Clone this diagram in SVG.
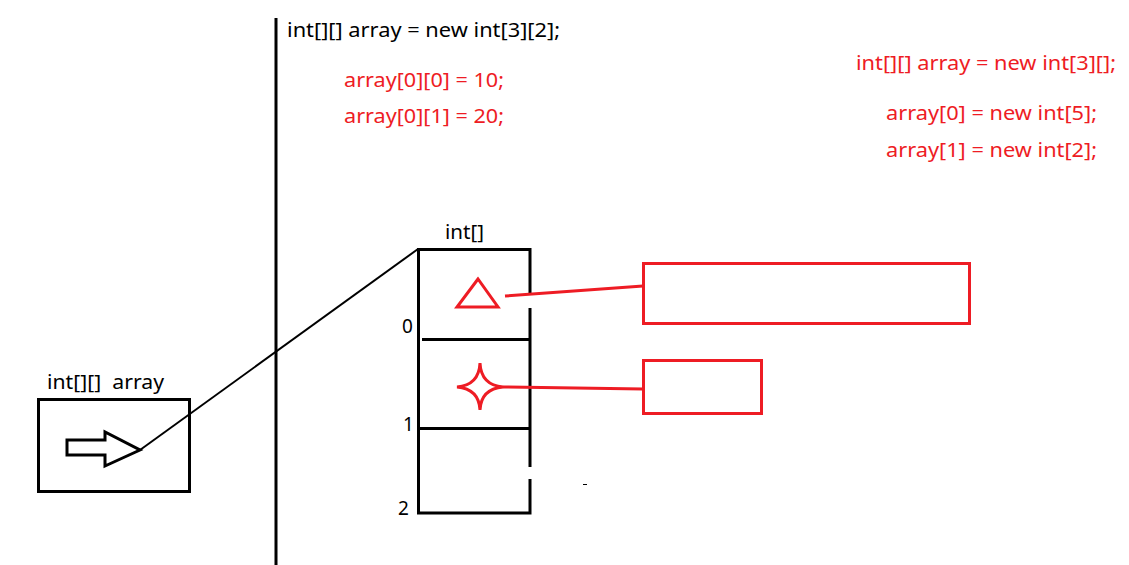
<svg xmlns="http://www.w3.org/2000/svg" width="1129" height="565" viewBox="0 0 1129 565">
<style>
.t{font-family:"Noto Sans","Open Sans",sans-serif;font-size:19px;fill:#000}
.r{fill:#ee1c24}
.k{stroke:#000;stroke-width:3;fill:none}
.rs{stroke:#ee1c24;stroke-width:3;fill:none}
</style>
<rect width="1129" height="565" fill="#fff"/>
<g id="texts">
<text class="t" x="287" y="37" textLength="273" lengthAdjust="spacingAndGlyphs">int[][] array = new int[3][2];</text>
<text class="t r" x="344" y="87" textLength="160" lengthAdjust="spacingAndGlyphs">array[0][0] = 10;</text>
<text class="t r" x="344" y="123" textLength="160" lengthAdjust="spacingAndGlyphs">array[0][1] = 20;</text>
<text class="t r" x="856" y="70" textLength="260" lengthAdjust="spacingAndGlyphs">int[][] array = new int[3][];</text>
<text class="t r" x="886" y="120" textLength="211" lengthAdjust="spacingAndGlyphs">array[0] = new int[5];</text>
<text class="t r" x="886" y="157" textLength="211" lengthAdjust="spacingAndGlyphs">array[1] = new int[2];</text>
</g>
<line x1="276" y1="18" x2="276" y2="565" class="k"/>
<g id="var">
<text class="t" x="47" y="389" textLength="117" lengthAdjust="spacingAndGlyphs" xml:space="preserve">int[][]  array</text>
<rect x="38.5" y="399.5" width="151" height="92" class="k"/>
<polygon points="67,440 105,440 105,432 140,450 105,466 105,455 67,455" class="k"/>
</g>
<g id="arr">
<text class="t" x="445" y="239" textLength="39" lengthAdjust="spacingAndGlyphs">int[]</text>
<path d="M530,295 V249.5 H418.5 V513 H530 V479 M530,467 V308" class="k"/>
<line x1="422" y1="339.5" x2="530" y2="339.5" class="k"/>
<line x1="418" y1="428.5" x2="530" y2="428.5" class="k"/>
<text class="t" x="402" y="333">0</text>
<text class="t" x="403" y="431">1</text>
<text class="t" x="398" y="515">2</text>
<polygon points="478,279 457,307 498,307" class="rs"/>
<path d="M480,363 Q481,385 503,387 Q481,389 480,410 Q479,389 457,387 Q479,385 480,363 Z" class="rs"/>
<line x1="583" y1="484.5" x2="587" y2="484.5" stroke="#000" stroke-width="1"/>
</g>
<g id="obj0"><rect x="643.5" y="263.5" width="326" height="60" class="rs"/></g>
<g id="obj1"><rect x="643.5" y="360.5" width="118" height="53" class="rs"/></g>
<g id="connectors">
<line x1="140" y1="450" x2="418" y2="249" stroke="#000" stroke-width="2"/>
<line x1="505" y1="296" x2="643" y2="286" class="rs"/>
<line x1="503" y1="387" x2="643" y2="389" class="rs"/>
</g>
</svg>
